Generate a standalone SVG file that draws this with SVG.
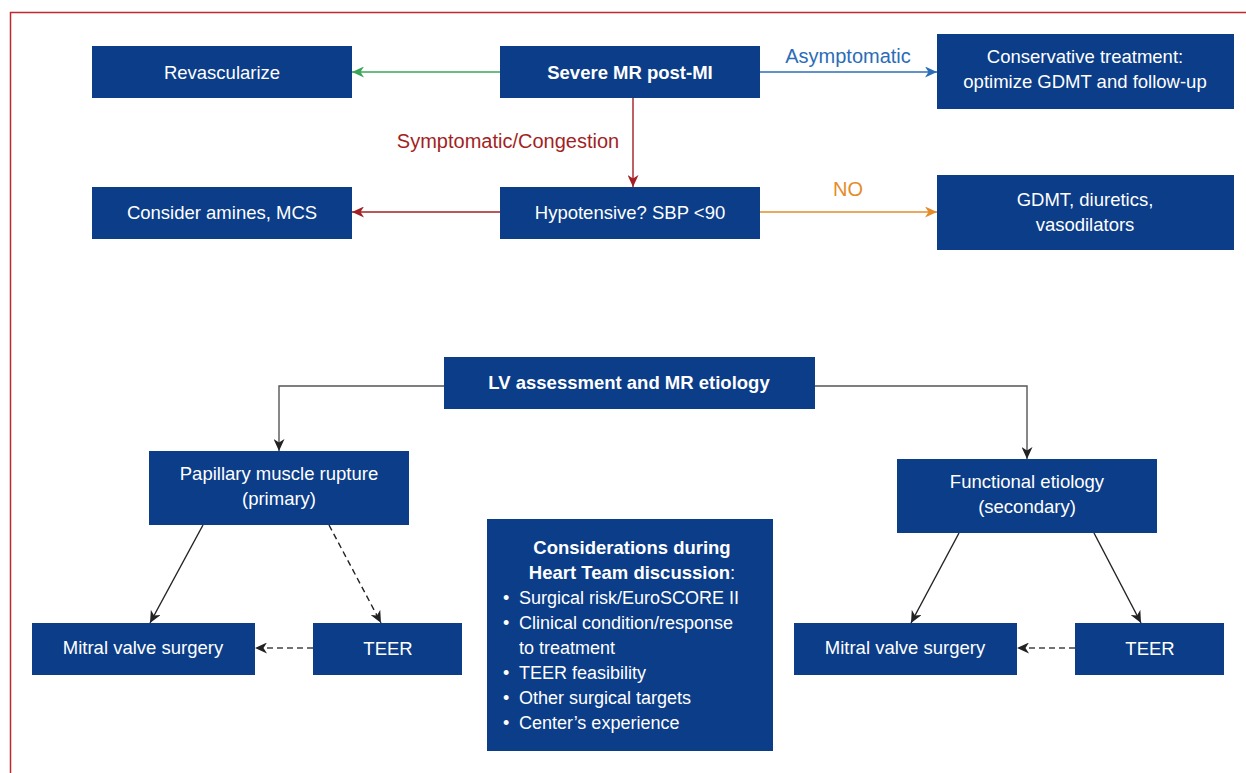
<svg xmlns="http://www.w3.org/2000/svg" width="1246" height="773" viewBox="0 0 1246 773">
<style>
.box{fill:#0b3d89}
.t{font-family:"Liberation Sans",Arial,sans-serif;font-size:18.5px;fill:#fff;text-anchor:middle}
.s{font-size:18px}
.b{font-weight:bold}
.l{font-family:"Liberation Sans",Arial,sans-serif;font-size:20px;text-anchor:middle}
.c{fill:none;stroke-width:1.4}
.dash{stroke-dasharray:6,4}
</style>
<defs>
<marker id="aG" markerUnits="userSpaceOnUse" markerWidth="13" markerHeight="11" refX="12" refY="5.5" orient="auto"><path d="M0,0 L12,5.5 L0,11 L3.5,5.5 z" fill="#3aa55a"/></marker>
<marker id="aB" markerUnits="userSpaceOnUse" markerWidth="13" markerHeight="11" refX="12" refY="5.5" orient="auto"><path d="M0,0 L12,5.5 L0,11 L3.5,5.5 z" fill="#2b6cb8"/></marker>
<marker id="aR" markerUnits="userSpaceOnUse" markerWidth="13" markerHeight="11" refX="12" refY="5.5" orient="auto"><path d="M0,0 L12,5.5 L0,11 L3.5,5.5 z" fill="#a31f24"/></marker>
<marker id="aO" markerUnits="userSpaceOnUse" markerWidth="13" markerHeight="11" refX="12" refY="5.5" orient="auto"><path d="M0,0 L12,5.5 L0,11 L3.5,5.5 z" fill="#e58b2a"/></marker>
<marker id="aK" markerUnits="userSpaceOnUse" markerWidth="13" markerHeight="11" refX="12" refY="5.5" orient="auto"><path d="M0,0 L12,5.5 L0,11 L3.5,5.5 z" fill="#222"/></marker>
</defs>
<rect width="1246" height="773" fill="#fff"/>
<path d="M10.5,773 V12.5 H1246" fill="none" stroke="#c0282d" stroke-width="1.5"/>

<g id="connectors">
<line class="c" x1="500" y1="72" x2="352" y2="72" stroke="#3aa55a" marker-end="url(#aG)"/>
<line class="c" x1="760" y1="72" x2="937" y2="72" stroke="#2b6cb8" marker-end="url(#aB)"/>
<line class="c" x1="633" y1="98" x2="633" y2="187" stroke="#a31f24" marker-end="url(#aR)"/>
<line class="c" x1="500" y1="212" x2="352" y2="212" stroke="#a31f24" marker-end="url(#aR)"/>
<line class="c" x1="760" y1="212" x2="937" y2="212" stroke="#e58b2a" marker-end="url(#aO)"/>
<polyline class="c" points="444,386 279,386 279,451" stroke="#555" marker-end="url(#aK)"/>
<polyline class="c" points="815,386 1027,386 1027,459" stroke="#555" marker-end="url(#aK)"/>
<line class="c" x1="203" y1="525" x2="150" y2="623" stroke="#222" marker-end="url(#aK)"/>
<line class="c dash" x1="329" y1="525" x2="381" y2="623" stroke="#222" marker-end="url(#aK)"/>
<line class="c dash" x1="313" y1="648" x2="255" y2="648" stroke="#444" marker-end="url(#aK)"/>
<line class="c" x1="959" y1="533" x2="911" y2="623" stroke="#222" marker-end="url(#aK)"/>
<line class="c" x1="1094" y1="533" x2="1141" y2="623" stroke="#222" marker-end="url(#aK)"/>
<line class="c dash" x1="1075" y1="648" x2="1017" y2="648" stroke="#444" marker-end="url(#aK)"/>
<text class="l" x="848" y="63" fill="#2b6cb8">Asymptomatic</text>
<text class="l" x="508" y="148" fill="#a31f24">Symptomatic/Congestion</text>
<text class="l" x="848" y="196" fill="#e58b2a">NO</text>
</g>

<g id="revascularize"><rect class="box" x="92" y="46" width="260" height="52"/><text class="t" x="222" y="79">Revascularize</text></g>
<g id="severe-mr"><rect class="box" x="500" y="46" width="260" height="52"/><text class="t b" x="630" y="79">Severe MR post-MI</text></g>
<g id="conservative"><rect class="box" x="937" y="34" width="297" height="75"/><text class="t" x="1085" y="63">Conservative treatment:</text><text class="t" x="1085" y="88">optimize GDMT and follow-up</text></g>
<g id="amines"><rect class="box" x="92" y="187" width="260" height="52"/><text class="t" x="222" y="219">Consider amines, MCS</text></g>
<g id="hypotensive"><rect class="box" x="500" y="187" width="260" height="52"/><text class="t" x="630" y="219">Hypotensive? SBP &lt;90</text></g>
<g id="gdmt"><rect class="box" x="937" y="175" width="297" height="75"/><text class="t" x="1085" y="206">GDMT, diuretics,</text><text class="t" x="1085" y="231">vasodilators</text></g>
<g id="lv-assessment"><rect class="box" x="444" y="357" width="371" height="52"/><text class="t b" x="629" y="389">LV assessment and MR etiology</text></g>
<g id="papillary"><rect class="box" x="149" y="451" width="260" height="74"/><text class="t" x="279" y="480">Papillary muscle rupture</text><text class="t" x="279" y="505">(primary)</text></g>
<g id="functional"><rect class="box" x="897" y="459" width="260" height="74"/><text class="t" x="1027" y="488">Functional etiology</text><text class="t" x="1027" y="513">(secondary)</text></g>
<g id="mitral-left"><rect class="box" x="32" y="623" width="223" height="52"/><text class="t" x="143" y="654">Mitral valve surgery</text></g>
<g id="teer-left"><rect class="box" x="313" y="623" width="149" height="52"/><text class="t" x="388" y="655">TEER</text></g>
<g id="mitral-right"><rect class="box" x="794" y="623" width="223" height="52"/><text class="t" x="905" y="654">Mitral valve surgery</text></g>
<g id="teer-right"><rect class="box" x="1075" y="623" width="149" height="52"/><text class="t" x="1150" y="655">TEER</text></g>
<g id="considerations"><rect class="box" x="487" y="519" width="286" height="232"/>
<text class="t b" x="632" y="554">Considerations during</text>
<text class="t" x="632" y="579"><tspan class="b">Heart Team discussion</tspan>:</text>
<g class="t s" style="text-anchor:start">
<text x="503" y="604">•</text><text x="519" y="604">Surgical risk/EuroSCORE II</text>
<text x="503" y="629">•</text><text x="519" y="629">Clinical condition/response</text>
<text x="519" y="654">to treatment</text>
<text x="503" y="679">•</text><text x="519" y="679">TEER feasibility</text>
<text x="503" y="704">•</text><text x="519" y="704">Other surgical targets</text>
<text x="503" y="729">•</text><text x="519" y="729">Center’s experience</text>
</g>
</g>
</svg>
